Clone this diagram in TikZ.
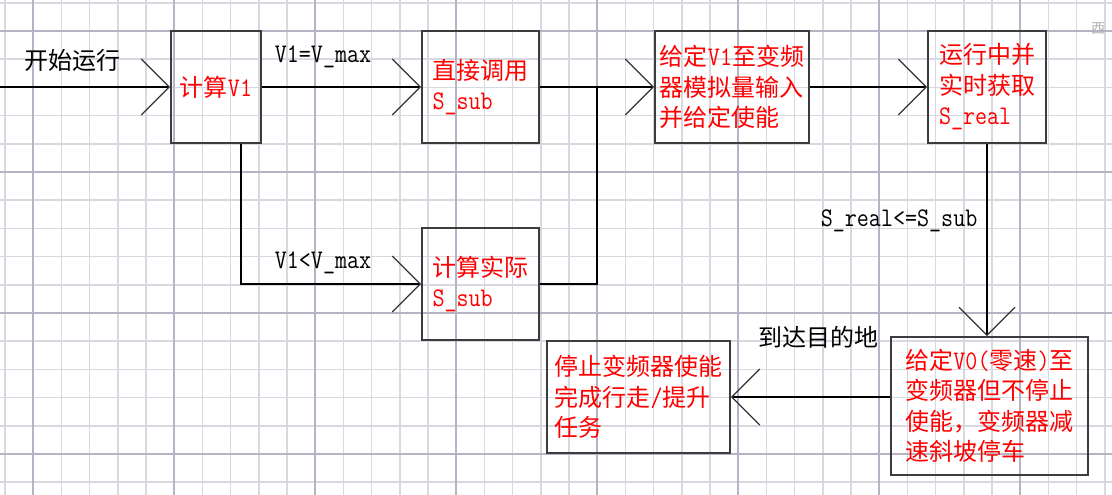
\documentclass[tikz,border=0pt]{standalone}
\usepackage{fontspec}
\setmainfont{Noto Sans CJK SC}
\setmonofont{Latin Modern Mono}[Scale=1.12, FakeStretch=0.87]
\usetikzlibrary{arrows.meta, calc}
\definecolor{cred}{HTML}{FF0000}
\definecolor{cgrid}{HTML}{D8D8E0}
\definecolor{cgridmajor}{HTML}{B4B4C4}
\definecolor{cedge}{HTML}{3C3C3C}
\tikzset{
  every picture/.style={x=1pt, y=-1pt, font=\fontsize{24}{30.5}\selectfont},
  box/.style={draw=cedge, line width=1.8pt, align=left, text=cred, inner sep=0pt, minimum height=112pt},
  arrow/.style={-{Straight Barb[length=28pt, width=56pt, line width=1.2pt, color=black!80]}, line width=1.3pt},
  link/.style={line width=1.3pt},
  lab/.style={inner sep=0pt},
  gridline/.style={draw=cgrid, line width=1.6pt},
  gridmajor/.style={draw=cgridmajor, line width=1.6pt},
}

\begin{document}
\begin{tikzpicture}
  \useasboundingbox (0,0) rectangle (1112,495);
  % background grid
  \foreach \k in {0,...,39}
    \draw[gridline] ({5+28.2*\k},0) -- ++(0,495);
  \foreach \k in {0,...,17}
    \draw[gridline] (0,{2.8+28.2*\k}) -- ++(1112,0);
  \foreach \gx in {33,174,315,456,597,738,879,1020}
    \draw[gridmajor] (\gx,0) -- ++(0,495);
  \foreach \gy in {31,172,313,454}
    \draw[gridmajor] (0,\gy) -- ++(1112,0);
  \node[text=black!30, font=\fontsize{14}{14}\selectfont] (mark) at (1098,29) {西};

  % boxes
  \node[box, minimum width=90pt] (calc) at (216,87) {计算\texttt{V1}};
  \node[box, minimum width=117pt] (direct) at (480.5,87) {直接调用\\\texttt{S\_sub}};
  \node[box, minimum width=154pt] (give) at (732,87) {给定\texttt{V1}至变频\\器模拟量输入\\并给定使能};
  \node[box, minimum width=118pt] (fetch) at (987,87) {运行中并\\实时获取\\\texttt{S\_real}};
  \node[box, minimum width=117pt] (actual) at (480.5,284) {计算实际\\\texttt{S\_sub}};
  \node[box, minimum width=197pt, minimum height=138pt] (zero) at (989.5,406) {给定\texttt{V0(}零速\texttt{)}至\\变频器但不停止\\使能，变频器减\\速斜坡停车};
  \node[box, minimum width=183pt] (finish) at (638.5,397) {停止变频器使能\\完成行走\texttt{/}提升\\任务};

  % connectors
  \coordinate (start) at (0,87);
  \draw[arrow] (start) -- (calc.west);
  \node[lab] (startlab) at (72,60) {开始运行};
  \draw[arrow] (calc.east) -- (direct.west);
  \node[lab] (maxlab) at (323,57) {\texttt{V1=V\_max}};
  \draw[arrow] ([xshift=25pt]calc.south) |- (actual.west);
  \node[lab] (lesslab) at (323,263) {\texttt{V1<V\_max}};
  \draw[arrow] (direct.east) -- (give.west);
  \coordinate (join) at ($(direct.east)!0.5!(give.west)$);
  \draw[link] (actual.east) -| (join);
  \draw[arrow] (give.east) -- (fetch.west);
  \draw[arrow] (fetch.south) -- (fetch.south |- zero.north)
    node[lab, pos=0.4, left=9pt] (cmplab) {\texttt{S\_real<=S\_sub}};
  \draw[arrow] (zero.west |- finish.east) -- (finish.east);
  \node[lab] (arrivelab) at (818,337) {到达目的地};
\end{tikzpicture}
\end{document}
